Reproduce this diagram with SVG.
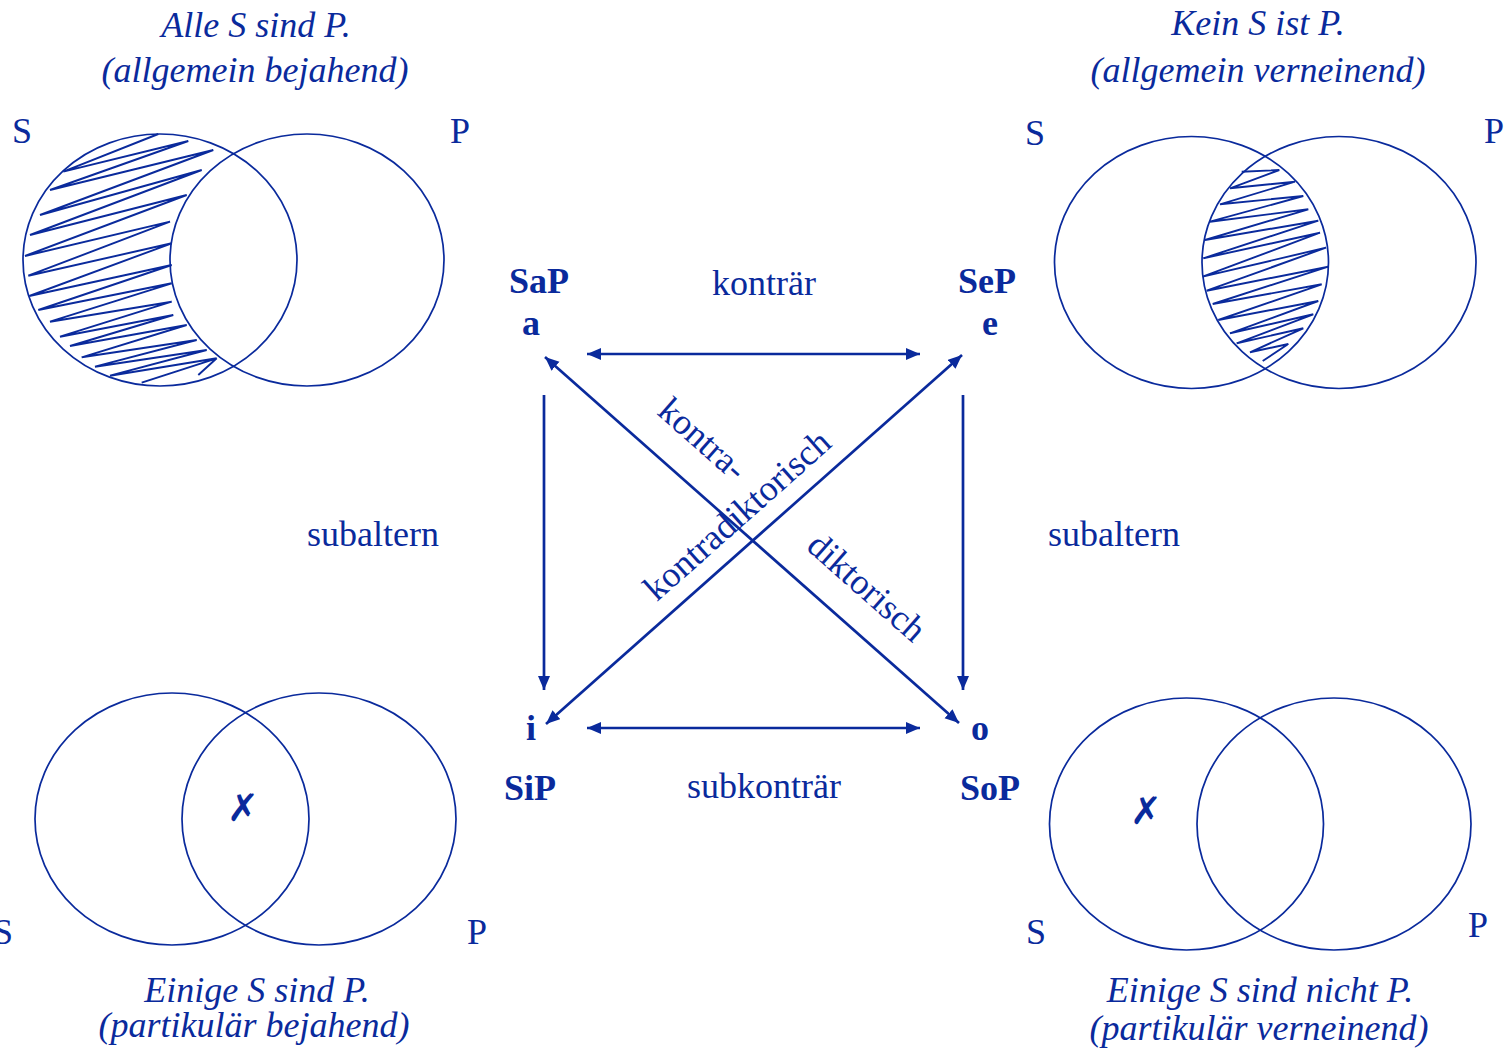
<svg xmlns="http://www.w3.org/2000/svg" width="1506" height="1053" viewBox="0 0 1506 1053">
<style>
.c{fill:none;stroke:#0a2a9c;stroke-width:1.7}
.h{fill:none;stroke:#0a2a9c;stroke-width:1.9;stroke-linejoin:miter;stroke-miterlimit:2}
.t{font-family:"Liberation Serif",serif;font-size:36px;fill:#0a2a9c}
.i{font-style:italic;text-anchor:middle}
.m{text-anchor:middle}
.b{font-weight:bold;font-size:36px;text-anchor:middle}
.x{font-family:"DejaVu Sans",sans-serif;font-size:38px;font-weight:bold;fill:#0a2a9c;text-anchor:middle}
.a{fill:none;stroke:#0a2a9c;stroke-width:2.7;marker-end:url(#ah)}
.d{fill:none;stroke:#0a2a9c;stroke-width:2.7;marker-start:url(#ah);marker-end:url(#ah)}
</style>
<defs>
<marker id="ah" markerUnits="userSpaceOnUse" markerWidth="16" markerHeight="14" refX="14" refY="6" orient="auto-start-reverse">
<path d="M0,0 L14,6 L0,12 z" fill="#0a2a9c"/>
</marker>
</defs>
<rect width="1506" height="1053" fill="#fff"/>

<g id="venn-a">
<text class="t i" x="256" y="37">Alle S sind P.</text>
<text class="t i" x="255" y="82">(allgemein bejahend)</text>
<text class="t m" x="22" y="143">S</text>
<text class="t m" x="460" y="143">P</text>
<ellipse class="c" cx="160" cy="260" rx="137" ry="126"/>
<ellipse class="c" cx="307" cy="260" rx="137" ry="126"/>
<polyline class="h" points="158.3,134 63.3,171.7 188.3,141 50,190 213.3,150 40,215 201.7,170 30,235 186.7,195 25,256 170,221.7 28.3,275.7 171.7,243.3 29.3,296 171.7,265 38.3,310 171.7,283.3 50,321.7 171.7,301.7 60,336.7 173.3,315 70,346 186.7,325 81.7,357.3 196.7,340 95,366.7 206.7,350 110,375.7 216.7,358.3 141.7,382.7 216.7,358.3 198.3,375"/>
</g>

<g id="venn-e">
<text class="t i" x="1258" y="35">Kein S ist P.</text>
<text class="t i" x="1258" y="82">(allgemein verneinend)</text>
<text class="t m" x="1035" y="145">S</text>
<text class="t m" x="1494" y="143">P</text>
<ellipse class="c" cx="1191.5" cy="262.5" rx="137" ry="126"/>
<ellipse class="c" cx="1339" cy="262.5" rx="137" ry="126"/>
<polyline class="h" points="1241.7,171.7 1279.3,170 1230,188.3 1295,181.7 1220,204.3 1303.3,196 1210,221.7 1308.3,209.3 1205,240 1318.3,220.7 1203.3,258.3 1320,232.7 1202.7,276.7 1326,247.7 1206.7,290.7 1328.3,266.7 1212.7,304 1321.7,284.3 1218.3,320 1318.3,301 1230,333.3 1313.3,314.3 1236.7,343.3 1303.3,328.3 1250,352.3 1288.3,344 1262.7,361"/>
</g>

<g id="venn-i">
<ellipse class="c" cx="172" cy="819" rx="137" ry="126"/>
<ellipse class="c" cx="319" cy="819" rx="137" ry="126"/>
<text class="x" x="243" y="821">✗</text>
<text class="t m" x="3" y="944">S</text>
<text class="t m" x="477" y="944">P</text>
<text class="t i" x="257" y="1002">Einige S sind P.</text>
<text class="t i" x="254" y="1037">(partikulär bejahend)</text>
</g>

<g id="venn-o">
<ellipse class="c" cx="1186.5" cy="824" rx="137" ry="126"/>
<ellipse class="c" cx="1334" cy="824" rx="137" ry="126"/>
<text class="x" x="1146" y="824">✗</text>
<text class="t m" x="1036" y="944">S</text>
<text class="t m" x="1478" y="937">P</text>
<text class="t i" x="1260" y="1002">Einige S sind nicht P.</text>
<text class="t i" x="1259" y="1040">(partikulär verneinend)</text>
</g>

<g id="node-a">
<text class="t b" x="539" y="293">SaP</text>
<text class="t b" x="531" y="335">a</text>
</g>
<g id="node-e">
<text class="t b" x="987" y="293">SeP</text>
<text class="t b" x="990" y="335">e</text>
</g>
<g id="node-i">
<text class="t b" x="531" y="740">i</text>
<text class="t b" x="530" y="800">SiP</text>
</g>
<g id="node-o">
<text class="t b" x="980" y="740">o</text>
<text class="t b" x="990" y="800">SoP</text>
</g>

<g id="connectors">
<line class="d" x1="587" y1="354" x2="920" y2="354"/>
<line class="d" x1="587" y1="728" x2="920" y2="728"/>
<line class="a" x1="544" y1="395" x2="544" y2="690"/>
<line class="a" x1="963" y1="395" x2="963" y2="690"/>
<line class="d" x1="545" y1="357" x2="959" y2="723"/>
<line class="d" x1="962" y1="355" x2="546" y2="724"/>
<text class="t m" x="764" y="295">konträr</text>
<text class="t m" x="764" y="798">subkonträr</text>
<text class="t m" x="373" y="546">subaltern</text>
<text class="t m" x="1114" y="546">subaltern</text>
<text class="t m" transform="translate(695,448) rotate(41.4)">kontra-</text>
<text class="t m" transform="translate(859,596) rotate(41.4)">diktorisch</text>
<text class="t m" transform="translate(745,524) rotate(-41.6)">kontradiktorisch</text>
</g>
</svg>
